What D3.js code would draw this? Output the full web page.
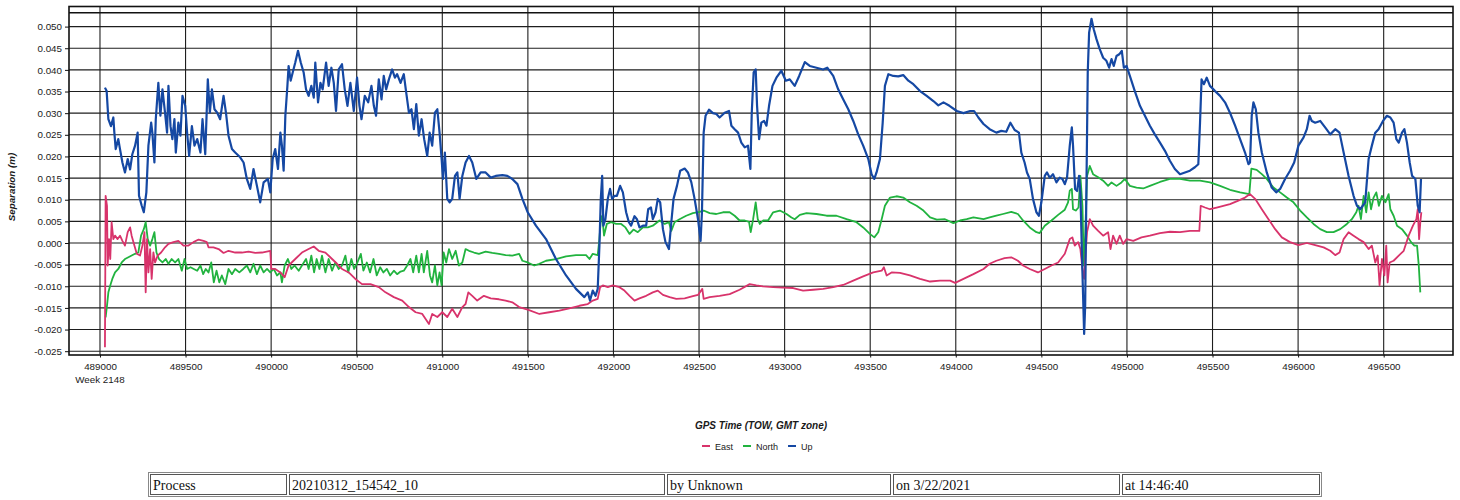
<!DOCTYPE html>
<html><head><meta charset="utf-8">
<script src="https://cdn.jsdelivr.net/npm/d3@7"></script>
<style>body{margin:0;background:#fff;overflow:hidden}</style>
</head><body><svg id="c" width="1460" height="500"></svg>
<script>
const xTicks = [489000,489500,490000,490500,491000,491500,492000,492500,493000,493500,494000,494500,495000,495500,496000,496500];
const yTicks = [-0.025,-0.020,-0.015,-0.010,-0.005,0.000,0.005,0.010,0.015,0.020,0.025,0.030,0.035,0.040,0.045,0.050];
const weekLabel = "Week 2148";
const yTitle = "Separation (m)";
const xTitle = "GPS Time (TOW, GMT zone)";
const seriesNames = ["East","North","Up"];
const seriesColors = ["#d8336b","#21b33f","#1548a3"];
const tableCells = ["Process","20210312_154542_10","by Unknown","on 3/22/2021","at 14:46:40"];

const eastData = [[489029,-0.0241],[489033,0.0109],[489041,0.0086],[489045,-0.0052],[489053,0.0009],[489060,-0.0037],[489068,0.0048],[489078,0.0009],[489088,0.0017],[489103,0.0009],[489117,0.0017],[489131,0.0005],[489146,-0.0006],[489162,0.0025],[489176,0.0036],[489185,0.0017],[489201,-0.0006],[489215,-0.0025],[489234,-0.0029],[489248,-0.0006],[489260,0.0025],[489267,-0.0114],[489275,0.0009],[489283,-0.0068],[489293,-0.0014],[489302,-0.0083],[489312,-0.0022],[489322,-0.0045],[489337,-0.0029],[489357,-0.0022],[489380,-0.001],[489400,-0.0002],[489429,0.0002],[489458,0.0005],[489488,-0.0006],[489517,-0.0006],[489546,0.0002],[489576,0.0008],[489605,0.0005],[489624,0.0002],[489634,-0.001],[489663,-0.001],[489693,-0.0014],[489722,-0.0023],[489751,-0.0018],[489790,-0.0022],[489829,-0.0022],[489868,-0.002],[489907,-0.0023],[489946,-0.0022],[489995,-0.0018],[490001,-0.006],[490024,-0.006],[490054,-0.0068],[490079,-0.0079],[490102,-0.0052],[490141,-0.0037],[490180,-0.0022],[490219,-0.0014],[490249,-0.0008],[490278,-0.0018],[490317,-0.0022],[490356,-0.0037],[490385,-0.0048],[490414,-0.006],[490453,-0.0068],[490492,-0.0083],[490531,-0.0095],[490580,-0.0095],[490629,-0.0102],[490668,-0.0114],[490717,-0.0125],[490766,-0.0133],[490805,-0.0148],[490844,-0.016],[490883,-0.0164],[490922,-0.0187],[490941,-0.0164],[490971,-0.0171],[491000,-0.016],[491029,-0.0171],[491058,-0.0152],[491088,-0.0171],[491117,-0.0148],[491136,-0.0141],[491152,-0.0114],[491175,-0.0122],[491204,-0.0133],[491243,-0.0122],[491283,-0.0128],[491331,-0.013],[491370,-0.0133],[491409,-0.0137],[491449,-0.0148],[491499,-0.0154],[491567,-0.0164],[491625,-0.016],[491684,-0.0156],[491742,-0.0151],[491801,-0.0145],[491850,-0.0141],[491879,-0.0133],[491908,-0.0129],[491922,-0.0102],[491938,-0.0098],[491967,-0.0102],[491996,-0.0098],[492035,-0.0102],[492064,-0.011],[492094,-0.0122],[492123,-0.0133],[492152,-0.0128],[492191,-0.0122],[492230,-0.0114],[492259,-0.011],[492289,-0.012],[492328,-0.0125],[492367,-0.0129],[492416,-0.0128],[492464,-0.0123],[492494,-0.012],[492519,-0.0106],[492527,-0.0129],[492562,-0.0125],[492620,-0.0122],[492679,-0.0118],[492737,-0.0108],[492796,-0.0095],[492835,-0.0098],[492874,-0.01],[492933,-0.0102],[492991,-0.0103],[493050,-0.0104],[493108,-0.011],[493167,-0.0108],[493225,-0.0106],[493284,-0.0102],[493342,-0.0097],[493401,-0.0087],[493459,-0.0077],[493518,-0.0068],[493567,-0.0064],[493580,-0.0056],[493596,-0.0075],[493625,-0.0068],[493674,-0.0069],[493732,-0.0075],[493791,-0.0083],[493850,-0.0089],[493908,-0.0087],[493967,-0.0087],[493996,-0.0092],[494045,-0.0083],[494103,-0.0072],[494162,-0.006],[494198,-0.0048],[494237,-0.0041],[494285,-0.0035],[494324,-0.0033],[494363,-0.0041],[494393,-0.0052],[494432,-0.006],[494480,-0.0068],[494520,-0.006],[494559,-0.0052],[494598,-0.0045],[494637,-0.0025],[494666,0.0009],[494681,0.0013],[494695,-0.0006],[494715,0.0002],[494728,-0.0014],[494740,-0.006],[494750,-0.0083],[494759,-0.0022],[494767,0.0025],[494783,0.0055],[494802,0.004],[494832,0.0028],[494861,0.0017],[494890,0.0025],[494904,-0.0014],[494919,0.0017],[494939,-0.0002],[494958,0.0017],[494978,-0.0002],[494998,0.0009],[495037,0.0005],[495085,0.0013],[495134,0.0017],[495193,0.0023],[495251,0.0026],[495310,0.0025],[495368,0.0028],[495423,0.0028],[495431,0.0086],[495456,0.0082],[495485,0.0078],[495524,0.0082],[495563,0.0086],[495602,0.009],[495651,0.0098],[495690,0.0105],[495719,0.0113],[495749,0.0102],[495788,0.0078],[495827,0.0055],[495866,0.0032],[495905,0.0013],[495953,0.0002],[496002,-0.0005],[496051,0],[496100,-0.0005],[496149,-0.001],[496188,-0.0018],[496217,-0.0028],[496242,-0.0022],[496266,0.0009],[496295,0.0025],[496324,0.0017],[496353,0.0009],[496383,0.0002],[496412,-0.0014],[496431,-0.0006],[496451,-0.0045],[496465,-0.0029],[496476,-0.0098],[496490,-0.0037],[496504,-0.0075],[496515,-0.0006],[496523,-0.0091],[496535,-0.0045],[496558,-0.0041],[496588,-0.0029],[496617,-0.0018],[496646,0.0017],[496671,0.004],[496691,0.0055],[496699,0.0078],[496707,0.0009],[496714,0.0048],[496720,0.0071]];

const northData = [[489033,-0.0172],[489041,-0.0145],[489049,-0.0114],[489060,-0.0098],[489072,-0.0083],[489088,-0.0068],[489107,-0.006],[489127,-0.0045],[489146,-0.0037],[489166,-0.0033],[489185,-0.0029],[489205,-0.0025],[489224,-0.0022],[489240,0.0017],[489256,0.0032],[489267,0.0048],[489279,0.0009],[489293,-0.0006],[489306,0.0009],[489318,0.0025],[489330,-0.0022],[489345,-0.0037],[489365,-0.0045],[489384,-0.0037],[489400,-0.0048],[489419,-0.0037],[489439,-0.0045],[489458,-0.0037],[489478,-0.0064],[489494,-0.0037],[489509,-0.006],[489529,-0.0056],[489548,-0.006],[489568,-0.0064],[489587,-0.0052],[489603,-0.0072],[489618,-0.006],[489634,-0.0068],[489650,-0.0045],[489665,-0.0091],[489681,-0.0064],[489697,-0.0091],[489712,-0.0075],[489732,-0.0095],[489751,-0.006],[489771,-0.0072],[489790,-0.006],[489814,-0.0068],[489837,-0.006],[489858,-0.0052],[489878,-0.0068],[489897,-0.0048],[489917,-0.0072],[489936,-0.0052],[489956,-0.0068],[489976,-0.006],[489995,-0.0068],[490015,-0.006],[490034,-0.0075],[490054,-0.0068],[490063,-0.0091],[490079,-0.0052],[490098,-0.0037],[490118,-0.006],[490137,-0.0052],[490161,-0.0064],[490180,-0.0052],[490204,-0.0037],[490219,-0.006],[490235,-0.0029],[490251,-0.0068],[490266,-0.0037],[490282,-0.006],[490297,-0.0029],[490317,-0.0068],[490336,-0.0037],[490356,-0.0064],[490375,-0.0045],[490395,-0.006],[490414,-0.0052],[490434,-0.0029],[490450,-0.0068],[490469,-0.0037],[490485,-0.006],[490504,-0.0045],[490524,-0.0025],[490539,-0.0064],[490559,-0.0045],[490578,-0.0068],[490598,-0.0037],[490617,-0.0075],[490637,-0.0056],[490656,-0.0068],[490676,-0.006],[490695,-0.0075],[490717,-0.0064],[490736,-0.0072],[490756,-0.0066],[490775,-0.0064],[490795,-0.0052],[490814,-0.0037],[490830,-0.0068],[490848,-0.0029],[490863,-0.0068],[490879,-0.0025],[490892,-0.0068],[490912,-0.0018],[490928,-0.0075],[490941,-0.0091],[490957,-0.0052],[490971,-0.0098],[490984,-0.0068],[490996,-0.0098],[491008,-0.0022],[491023,-0.0045],[491039,-0.0014],[491058,-0.0037],[491078,-0.0018],[491097,-0.0052],[491117,-0.0045],[491136,-0.0014],[491156,-0.0018],[491185,-0.0022],[491214,-0.0025],[491253,-0.002],[491292,-0.0023],[491331,-0.0025],[491370,-0.0028],[491409,-0.0029],[491449,-0.0025],[491468,-0.0041],[491499,-0.0045],[491537,-0.0052],[491567,-0.0048],[491606,-0.0041],[491664,-0.0037],[491723,-0.0031],[491781,-0.0028],[491840,-0.0028],[491860,-0.0037],[491879,-0.0025],[491908,-0.0028],[491918,0.0009],[491926,0.0055],[491934,0.0063],[491945,0.0017],[491961,0.0044],[491986,0.0048],[492016,0.0044],[492045,0.0044],[492070,0.0036],[492094,0.0021],[492117,0.0031],[492142,0.0025],[492172,0.0036],[492201,0.0036],[492230,0.004],[492269,0.0052],[492299,0.0044],[492324,0.0048],[492338,0.0028],[492357,0.0048],[492386,0.0055],[492425,0.0063],[492464,0.0069],[492503,0.0072],[492527,0.0075],[492562,0.0069],[492601,0.0067],[492640,0.0071],[492679,0.0071],[492708,0.0063],[492737,0.0052],[492767,0.0052],[492792,0.0049],[492802,0.0025],[492816,0.0055],[492831,0.0094],[492843,0.0055],[492855,0.0044],[492874,0.0052],[492903,0.0052],[492933,0.0071],[492972,0.0075],[493011,0.0067],[493040,0.0059],[493059,0.0055],[493089,0.0065],[493128,0.0069],[493186,0.0067],[493245,0.0063],[493303,0.0063],[493362,0.0055],[493420,0.0048],[493459,0.0036],[493498,0.0021],[493524,0.0013],[493547,0.0025],[493567,0.0055],[493586,0.0086],[493616,0.0105],[493654,0.0108],[493693,0.0105],[493732,0.0094],[493771,0.0086],[493811,0.0075],[493850,0.0059],[493889,0.0054],[493937,0.0055],[493986,0.0046],[494025,0.0052],[494064,0.0055],[494103,0.0059],[494162,0.0055],[494198,0.0059],[494237,0.0063],[494276,0.0067],[494324,0.0072],[494363,0.0067],[494393,0.0052],[494432,0.0036],[494471,0.0025],[494490,0.0023],[494520,0.004],[494559,0.0052],[494598,0.0065],[494637,0.0077],[494656,0.0094],[494666,0.0121],[494678,0.0125],[494685,0.0078],[494701,0.0075],[494717,0.0082],[494728,0.0155],[494740,0.0086],[494748,-0.0052],[494756,0.0017],[494767,0.0155],[494783,0.0178],[494802,0.0159],[494832,0.0152],[494861,0.0144],[494890,0.0132],[494910,0.014],[494939,0.0132],[494968,0.014],[494988,0.0148],[495017,0.0132],[495056,0.0128],[495095,0.0126],[495134,0.0132],[495193,0.0141],[495251,0.0148],[495310,0.0148],[495368,0.0144],[495427,0.0144],[495485,0.014],[495544,0.0132],[495602,0.0123],[495661,0.0117],[495715,0.0113],[495727,0.0172],[495758,0.0169],[495788,0.0159],[495817,0.0148],[495856,0.0128],[495895,0.0117],[495934,0.0105],[495973,0.0094],[496012,0.0075],[496051,0.0059],[496090,0.0044],[496129,0.0032],[496168,0.0025],[496207,0.0025],[496246,0.0032],[496285,0.0044],[496314,0.0055],[496340,0.0071],[496353,0.0086],[496367,0.0055],[496383,0.0109],[496398,0.0071],[496412,0.0117],[496426,0.0078],[496441,0.0105],[496457,0.0117],[496472,0.0086],[496490,0.0109],[496510,0.0094],[496529,0.0113],[496539,0.0078],[496558,0.0063],[496578,0.004],[496607,0.0032],[496636,0.0017],[496660,0.0002],[496679,-0.0006],[496695,-0.0006],[496705,-0.0052],[496714,-0.0114]];

const upData = [[489029,0.0359],[489039,0.0351],[489049,0.0286],[489064,0.027],[489078,0.029],[489084,0.0255],[489092,0.0217],[489107,0.024],[489117,0.0217],[489131,0.0186],[489146,0.0163],[489162,0.0194],[489176,0.017],[489189,0.0205],[489205,0.0225],[489220,0.0255],[489228,0.0109],[489244,0.0086],[489256,0.0071],[489271,0.0117],[489283,0.0225],[489299,0.0278],[489306,0.0255],[489318,0.0186],[489326,0.0286],[489341,0.037],[489353,0.0294],[489365,0.0355],[489380,0.0301],[489392,0.0255],[489400,0.0363],[489412,0.027],[489423,0.024],[489435,0.0286],[489443,0.0209],[489458,0.0278],[489470,0.0248],[489482,0.034],[489498,0.0317],[489509,0.0255],[489521,0.0201],[489537,0.027],[489552,0.0225],[489568,0.024],[489587,0.0209],[489599,0.0286],[489615,0.0205],[489630,0.0378],[489642,0.0301],[489654,0.0355],[489669,0.0309],[489685,0.0301],[489702,0.0286],[489722,0.034],[489736,0.0301],[489751,0.0248],[489771,0.0217],[489790,0.0209],[489819,0.0198],[489839,0.0186],[489858,0.0148],[489878,0.0125],[489897,0.0171],[489917,0.0132],[489936,0.0094],[489956,0.014],[489981,0.0148],[489995,0.0117],[490009,0.0194],[490024,0.0217],[490040,0.0171],[490054,0.0255],[490063,0.0225],[490073,0.0167],[490083,0.0294],[490095,0.0363],[490102,0.0409],[490114,0.0375],[490126,0.0394],[490141,0.0417],[490157,0.0444],[490173,0.0417],[490190,0.0394],[490204,0.0355],[490219,0.034],[490235,0.0363],[490249,0.0336],[490258,0.0417],[490274,0.0325],[490288,0.037],[490301,0.0355],[490321,0.0417],[490336,0.0363],[490352,0.0405],[490366,0.037],[490379,0.0305],[490395,0.0401],[490414,0.0413],[490430,0.0355],[490446,0.0317],[490463,0.037],[490483,0.0305],[490502,0.0382],[490516,0.0317],[490528,0.0286],[490547,0.034],[490567,0.0325],[490586,0.0363],[490600,0.0317],[490613,0.0294],[490629,0.0378],[490645,0.0332],[490658,0.0386],[490672,0.0355],[490688,0.0378],[490707,0.0401],[490723,0.0382],[490736,0.039],[490756,0.037],[490775,0.039],[490789,0.0348],[490805,0.0301],[490820,0.0309],[490834,0.0263],[490848,0.0321],[490863,0.0248],[490879,0.0286],[490894,0.024],[490912,0.0201],[490926,0.0255],[490941,0.0225],[490957,0.0301],[490971,0.0309],[490984,0.0255],[490996,0.0194],[491004,0.0148],[491015,0.0209],[491029,0.0102],[491043,0.0094],[491058,0.0102],[491074,0.0155],[491088,0.0163],[491101,0.0102],[491117,0.0155],[491136,0.0186],[491156,0.0201],[491175,0.0186],[491199,0.0148],[491224,0.0163],[491253,0.0163],[491283,0.0151],[491312,0.0155],[491351,0.0157],[491380,0.0155],[491409,0.0148],[491439,0.0136],[491468,0.0102],[491499,0.0071],[491547,0.004],[491606,0.0009],[491664,-0.0037],[491723,-0.0075],[491781,-0.0106],[491830,-0.0125],[491850,-0.0114],[491863,-0.0133],[491879,-0.011],[491895,-0.0122],[491908,-0.0106],[491918,-0.0006],[491926,0.0102],[491934,0.0155],[491941,0.004],[491953,0.0055],[491967,0.0102],[491980,0.0125],[491992,0.0102],[492006,0.0109],[492020,0.0109],[492039,0.0132],[492055,0.0117],[492074,0.0071],[492090,0.0048],[492103,0.004],[492123,0.0062],[492137,0.0055],[492152,0.0036],[492172,0.004],[492191,0.004],[492203,0.0078],[492219,0.0082],[492230,0.0055],[492246,0.0071],[492259,0.0102],[492273,0.0094],[492289,0.0032],[492304,0.0002],[492324,-0.0014],[492338,0.0048],[492351,0.0102],[492371,0.0132],[492390,0.0167],[492416,0.0172],[492435,0.0163],[492455,0.014],[492474,0.0102],[492494,0.0055],[492509,0.0005],[492517,0.0071],[492527,0.0255],[492538,0.0294],[492558,0.0308],[492581,0.03],[492601,0.0298],[492620,0.029],[492650,0.0301],[492675,0.0305],[492689,0.0271],[492708,0.0263],[492728,0.0255],[492747,0.0232],[492767,0.0221],[492786,0.0225],[492800,0.0171],[492808,0.0301],[492819,0.0394],[492831,0.0401],[492839,0.0317],[492851,0.024],[492864,0.0278],[492880,0.0282],[492894,0.0271],[492909,0.0317],[492929,0.0363],[492952,0.0382],[492981,0.0398],[493007,0.0375],[493030,0.0378],[493059,0.0363],[493085,0.0386],[493118,0.0418],[493147,0.0409],[493186,0.0405],[493225,0.0401],[493249,0.0405],[493284,0.0386],[493313,0.0355],[493342,0.0332],[493372,0.0309],[493401,0.0282],[493430,0.0251],[493459,0.0225],[493489,0.0194],[493508,0.0159],[493524,0.0148],[493537,0.0163],[493557,0.0194],[493573,0.0278],[493586,0.0363],[493606,0.039],[493635,0.0386],[493664,0.0385],[493693,0.0388],[493723,0.0375],[493752,0.0367],[493791,0.0351],[493830,0.034],[493869,0.0328],[493898,0.0318],[493928,0.0325],[493963,0.0317],[494006,0.0305],[494045,0.03],[494084,0.0305],[494107,0.0305],[494132,0.029],[494162,0.0275],[494198,0.0263],[494237,0.0255],[494266,0.0259],[494295,0.0257],[494319,0.0278],[494344,0.0261],[494369,0.0255],[494383,0.0209],[494402,0.0186],[494416,0.0163],[494432,0.0148],[494451,0.0102],[494471,0.0071],[494486,0.0063],[494500,0.0094],[494520,0.0155],[494533,0.0163],[494549,0.0151],[494568,0.0159],[494588,0.014],[494607,0.0151],[494623,0.0148],[494637,0.0136],[494650,0.0151],[494666,0.0225],[494678,0.0267],[494685,0.0225],[494697,0.0125],[494709,0.012],[494720,0.0155],[494728,0.0117],[494740,-0.0068],[494750,-0.021],[494756,-0.0145],[494763,0.0117],[494771,0.0394],[494779,0.0486],[494793,0.0518],[494806,0.0494],[494822,0.0471],[494841,0.0448],[494861,0.0428],[494880,0.0421],[494896,0.0405],[494910,0.0425],[494923,0.0409],[494939,0.0432],[494955,0.0436],[494970,0.0444],[494982,0.0405],[494998,0.0409],[495017,0.0386],[495046,0.0351],[495076,0.0317],[495105,0.0294],[495134,0.0271],[495163,0.0251],[495193,0.0232],[495222,0.0213],[495251,0.019],[495280,0.0171],[495310,0.0159],[495339,0.0163],[495368,0.0167],[495397,0.0175],[495417,0.0182],[495427,0.0278],[495436,0.0378],[495450,0.0367],[495466,0.0382],[495485,0.0363],[495515,0.0351],[495544,0.034],[495573,0.0325],[495602,0.0301],[495632,0.0271],[495661,0.024],[495690,0.0209],[495710,0.0182],[495719,0.0186],[495729,0.0294],[495739,0.0325],[495753,0.0309],[495768,0.0255],[495788,0.0209],[495817,0.0163],[495846,0.0128],[495872,0.0117],[495895,0.0125],[495924,0.0148],[495953,0.0167],[495977,0.0186],[496002,0.0225],[496032,0.0244],[496051,0.0263],[496067,0.0294],[496080,0.0282],[496100,0.0278],[496129,0.0282],[496158,0.0267],[496188,0.0251],[496217,0.0263],[496242,0.0255],[496266,0.0209],[496295,0.0155],[496324,0.0109],[496344,0.0086],[496363,0.0078],[496392,0.0094],[496412,0.0194],[496431,0.0225],[496451,0.0255],[496470,0.0263],[496496,0.0282],[496519,0.0294],[496539,0.029],[496558,0.0278],[496574,0.024],[496588,0.0232],[496607,0.0255],[496621,0.0263],[496636,0.0232],[496652,0.0186],[496666,0.0155],[496685,0.0148],[496699,0.0086],[496710,0.0071],[496718,0.0148]];

const svg = d3.select("#c");
const L = 69, R = 1453, T = 6, B = 354.5;
const x = d3.scaleLinear().domain([488819, 496905]).range([L, R]);
const y = d3.scaleLinear().domain([-0.025, 0.050]).range([351.2, 26.6]);
const sans = "'Liberation Sans', Arial, sans-serif";

svg.append("rect").attr("width",1460).attr("height",500).attr("fill","#fff");

// grid
const grid = svg.append("g").attr("stroke","#1e1e1e").attr("stroke-width",1.1);
grid.selectAll(".hg").data(yTicks).join("line")
  .attr("x1",L).attr("x2",R).attr("y1",d=>y(d)).attr("y2",d=>y(d));
grid.selectAll(".vg").data(xTicks).join("line")
  .attr("y1",T).attr("y2",B).attr("x1",d=>x(d)).attr("x2",d=>x(d));

// axes
const fmt = d => (Math.abs(d) < 1e-9 ? 0 : d).toFixed(3);
const yAx = svg.append("g").attr("transform",`translate(${L},0)`)
  .call(d3.axisLeft(y).tickValues(yTicks).tickFormat(fmt).tickSize(4).tickPadding(3));
const xAx = svg.append("g").attr("transform",`translate(0,${B})`)
  .call(d3.axisBottom(x).tickValues(xTicks).tickFormat(d3.format("d")).tickSize(3).tickPadding(6));
[yAx,xAx].forEach(a=>{
  a.select(".domain").remove();
  a.selectAll("line").attr("stroke","#111");
  a.selectAll("text").attr("font-family",sans).attr("font-size","9.8px").attr("fill","#1a1a1a");
});
svg.append("text").attr("x",x(xTicks[0])).attr("y",383).attr("text-anchor","middle")
  .attr("font-family",sans).attr("font-size","9.8px").attr("fill","#1a1a1a").text(weekLabel);

// lines
const line = d3.line().x(d=>x(d[0])).y(d=>y(d[1]));
const series = [northData, eastData, upData];
const sc = [seriesColors[1], seriesColors[0], seriesColors[2]];
const sw = [1.8, 1.8, 2.2];
series.forEach((s,i)=>{
  svg.append("path").datum(s).attr("d",line).attr("fill","none")
    .attr("stroke",sc[i]).attr("stroke-width",sw[i]).attr("stroke-linejoin","round");
});

// frame
svg.append("rect").attr("x",L).attr("y",T+0.5).attr("width",R-L).attr("height",B-T)
  .attr("fill","none").attr("stroke","#111").attr("stroke-width",1.6);
svg.append("line").attr("x1",L).attr("x2",R).attr("y1",12.7).attr("y2",12.7)
  .attr("stroke","#111").attr("stroke-width",1.6);

// titles
svg.append("text").attr("transform","translate(15,187) rotate(-90)").attr("text-anchor","middle")
  .attr("font-family",sans).attr("font-size","9.8px").attr("font-weight","bold").attr("font-style","italic")
  .attr("fill","#1a1a1a").text(yTitle);
svg.append("text").attr("x",761).attr("y",428.5).attr("text-anchor","middle")
  .attr("font-family",sans).attr("font-size","10px").attr("font-weight","bold").attr("font-style","italic")
  .attr("fill","#1a1a1a").text(xTitle);

// legend
let lx = 702;
seriesNames.forEach((n,i)=>{
  svg.append("line").attr("x1",lx).attr("x2",lx+8).attr("y1",446).attr("y2",446)
    .attr("stroke",seriesColors[i]).attr("stroke-width",2);
  const t = svg.append("text").attr("x",lx+13).attr("y",449.5).attr("font-family",sans)
    .attr("font-size","9px").attr("fill","#1a1a1a").text(n);
  lx += 13 + t.node().getComputedTextLength() + 10;
});

// info table
const bounds = [148, 287, 665, 891, 1120, 1322];
const tb = svg.append("g");
tb.append("rect").attr("x",bounds[0]+0.5).attr("y",472.5).attr("width",bounds[5]-bounds[0]-1).attr("height",24)
  .attr("fill","none").attr("stroke","#888");
tableCells.forEach((c,i)=>{
  const x0 = bounds[i]+2, x1 = (i===tableCells.length-1) ? bounds[i+1]-2 : bounds[i+1];
  tb.append("rect").attr("x",x0+0.5).attr("y",474.5).attr("width",x1-x0-1).attr("height",20)
    .attr("fill","none").attr("stroke","#555");
  tb.append("text").attr("x",x0+3).attr("y",490).attr("font-family","'Liberation Serif','Times New Roman',serif")
    .attr("font-size","14px").attr("fill","#111").text(c);
});
</script></body></html>
